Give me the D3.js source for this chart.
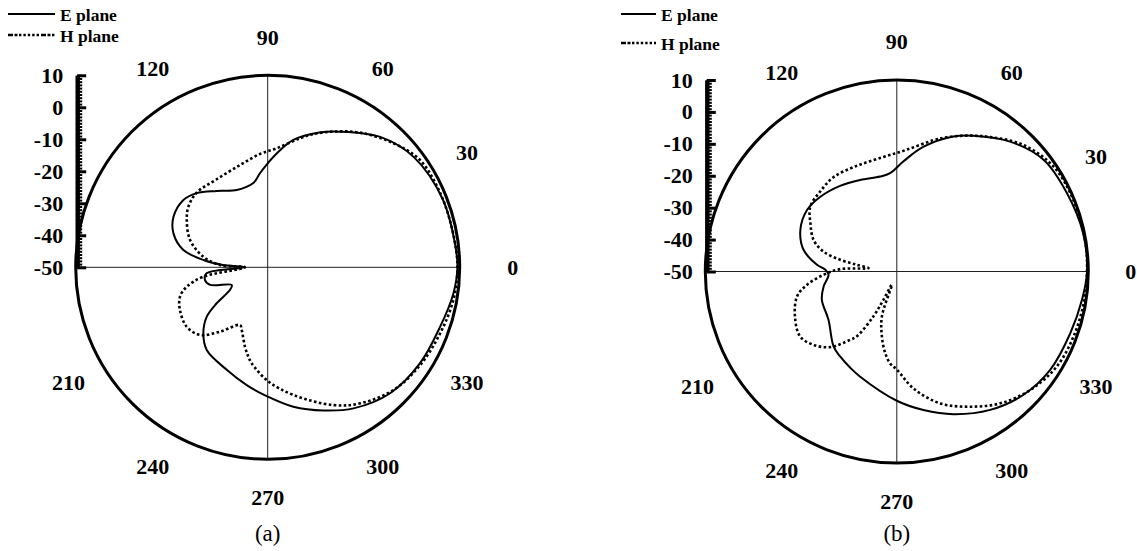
<!DOCTYPE html>
<html><head><meta charset="utf-8">
<script src="https://cdn.jsdelivr.net/npm/d3@7"></script>
<style>
body{margin:0;background:#fff;}
svg{display:block;}
text{font-family:"Times New Roman","Liberation Serif",serif;}
</style></head>
<body>
<svg id="c" width="1137" height="551"></svg>
<script>
// ---- data (angle in degrees, level in dB) ----
const radialTicks = [10, 0, -10, -20, -30, -40, -50];
const angleLabels = [0, 30, 60, 90, 120, 210, 240, 270, 300, 330];
const seriesNames = ["E plane", "H plane"];
const panelCaptions = ["(a)", "(b)"];

const aE_ang = [0,7,21,37,49,62,69,78.6,85.5,90,94.7,99.7,111.8,123.7,133.8,141.4,151.8,160.2,168.4,173.5,177,180,185.6,191.4,197,206.2,211,215.2,219,225.7,233.6,248.2,259.9,270,280.4,291.2,301.3,314.2,327.8,341,352];
const aE_val = [9.3,9.0,8.7,7.2,3.9,-2.0,-4.9,-9.4,-14.3,-17.5,-20.5,-23.3,-24,-21.3,-17.9,-16.3,-16.6,-18.7,-23.1,-29.8,-36,-42.9,-30.8,-30,-31.2,-37.5,-36.2,-30.5,-25.5,-21.2,-17.9,-15.5,-12.6,-9.6,-5.7,-2.0,1.6,4.9,6.25,7.0,8.6];

const aH_ang = [0,10.5,23.2,35.2,44.6,55.6,64.2,71.1,75.9,85.7,93.9,105.1,120.1,133.6,142.6,149.7,160.6,170.7,177.2,180,188.3,193.5,198.5,206,216.3,225,233.5,244.4,247.5,254,257.8,260.5,270,281.4,295.5,304.2,315.7,327.3,339,350];
const aH_val = [9.3,8.9,8.7,8.2,5.2,1.0,-2.9,-6.0,-8.4,-12.7,-14.5,-16.9,-18.2,-17.8,-18.8,-20.7,-24.3,-29.6,-35.1,-42.9,-29.7,-24,-21.1,-19.5,-18.6,-20.1,-25,-30,-28.8,-24.2,-21.4,-19.6,-14.5,-9.3,-2.3,1.4,4.9,6.6,7.7,8.9];

const bE_ang = [0,11.6,24.7,37.3,48.9,60.5,67.2,77.9,86.5,93.9,100,111.8,123.5,135.6,145.6,156.7,166.9,175.2,178.6,182.8,191.5,200.7,215.2,229.8,236.3,244.2,250.8,270,280.9,291.7,304,315.8,327.3,340.4,351.3];
const bE_val = [9.6,9.6,8.7,7.8,4.0,-1.1,-4.1,-10.0,-15.4,-19.1,-19.8,-19.1,-17.8,-16.5,-15.9,-17.1,-20,-24.9,-27.6,-28.6,-26.6,-24.9,-23.8,-19.3,-18,-16.5,-15.1,-9.5,-5.8,-1.9,2.3,5.4,7.1,7.7,8.7];

const bH_ang = [0,9.5,22,33.8,45,55.2,62.7,69.6,74.4,85.3,96.7,110.7,123.9,133.8,143.1,150.8,159.2,164.8,168.3,170.5,173.2,177.6,182.6,188.4,194,203.9,213.9,221.3,228.6,235.7,238.4,242.5,244.7,249.4,251.6,257,261.8,266,270,278.1,288.2,298.5,308.1,318.4,329.3,339.8,350.4];
const bH_val = [9.6,9.8,9.7,9.1,6.1,1.3,-2.1,-5.1,-7.3,-11.7,-13.9,-14.6,-14.4,-15.3,-16.1,-19,-22.1,-26.2,-31.9,-37.3,-41.1,-32.3,-27,-21.6,-17.8,-15.1,-13.5,-15.2,-18.4,-24.1,-26.2,-34.2,-40.2,-45.6,-35.2,-29.2,-24.3,-21,-19.3,-13,-6.5,-1.8,2.5,5.9,8.3,9.0,9.4];

// ---- layout ----
const svg = d3.select("#c");
const panels = [
  {cx:267.7, cy:267.3, R:192, E:[aE_ang,aE_val], H:[aH_ang,aH_val], cap:panelCaptions[0],
   legX1:8, legX2:55, legTx:60, legEy:14, legEb:21, legHy:35, legHb:42, zeroR:245},
  {cx:896.8, cy:271.5, R:191.5, E:[bE_ang,bE_val], H:[bH_ang,bH_val], cap:panelCaptions[1],
   legX1:621, legX2:656, legTx:661, legEy:14, legEb:21, legHy:43, legHb:50, zeroR:234}
];

const zip = (a, v) => a.map((d, i) => [d, v[i]]);

panels.forEach(p => {
  const g = svg.append("g");
  const r = d3.scaleLinear().domain([-50, 10]).range([0, p.R]);
  const toRad = deg => (90 - deg) * Math.PI / 180;

  // axes cross lines
  g.append("line").attr("x1", p.cx - p.R).attr("x2", p.cx + p.R).attr("y1", p.cy).attr("y2", p.cy)
    .attr("stroke", "#222").attr("stroke-width", 1);
  g.append("line").attr("x1", p.cx).attr("x2", p.cx).attr("y1", p.cy - p.R).attr("y2", p.cy + p.R)
    .attr("stroke", "#222").attr("stroke-width", 1);

  // outer circle
  g.append("circle").attr("cx", p.cx).attr("cy", p.cy).attr("r", r(10))
    .attr("fill", "none").attr("stroke", "#000").attr("stroke-width", 3);

  // curves
  const line = d3.lineRadial()
    .angle(d => toRad(d[0]))
    .radius(d => r(d[1]))
    .curve(d3.curveCatmullRomClosed.alpha(0.5));
  const cg = g.append("g").attr("transform", `translate(${p.cx},${p.cy})`);
  cg.append("path").attr("d", line(zip(p.H[0], p.H[1])))
    .attr("fill", "none").attr("stroke", "#000").attr("stroke-width", 2.6)
    .attr("stroke-dasharray", "2.6,2.4");
  cg.append("path").attr("d", line(zip(p.E[0], p.E[1])))
    .attr("fill", "none").attr("stroke", "#000").attr("stroke-width", 2);

  // value axis bar on the left
  const y = d3.scaleLinear().domain([-50, 10]).range([p.cy, p.cy - p.R]);
  const bx = p.cx - p.R + 1.5;
  const minor = d3.range(-50, 10.5, 1);
  g.append("g").attr("transform", `translate(${bx},0)`)
    .call(d3.axisLeft(y).tickValues(minor).tickSizeInner(-5).tickSizeOuter(0).tickFormat(""))
    .call(s => s.select(".domain").attr("stroke-width", 4))
    .call(s => s.selectAll(".tick line").attr("stroke-width", 2));
  const ax = g.append("g").attr("transform", `translate(${bx},0)`)
    .call(d3.axisLeft(y).tickValues(radialTicks).tickSizeInner(-9).tickSizeOuter(0).tickPadding(14)
      .tickFormat(d => String(d)));
  ax.select(".domain").attr("stroke-width", 4);
  ax.selectAll(".tick line").attr("stroke-width", 3);
  ax.selectAll(".tick text").attr("font-family", '"Times New Roman","Liberation Serif",serif')
    .attr("font-size", 22).attr("font-weight", "bold").attr("fill", "#000");

  // angle labels
  g.selectAll("text.ang").data(angleLabels).join("text").attr("class", "ang")
    .attr("x", d => p.cx + (d === 0 ? p.zeroR : 230) * Math.cos(d * Math.PI / 180))
    .attr("y", d => p.cy - (d === 0 ? p.zeroR : 230) * Math.sin(d * Math.PI / 180))
    .attr("dy", "0.35em").attr("text-anchor", "middle")
    .attr("font-size", 22).attr("font-weight", "bold").text(d => d);

  // legend
  g.append("line").attr("x1", p.legX1).attr("x2", p.legX2).attr("y1", p.legEy).attr("y2", p.legEy)
    .attr("stroke", "#000").attr("stroke-width", 2);
  g.append("text").attr("x", p.legTx).attr("y", p.legEb).attr("font-size", 17.5).attr("font-weight", "bold")
    .text(seriesNames[0]);
  g.append("line").attr("x1", p.legX1).attr("x2", p.legX2).attr("y1", p.legHy).attr("y2", p.legHy)
    .attr("stroke", "#000").attr("stroke-width", 2.6).attr("stroke-dasharray", "5,1.5,3,1.5,2.4,2,2.4,2,2.4,2,2.4,2,2.4,2");
  g.append("text").attr("x", p.legTx).attr("y", p.legHb).attr("font-size", 17.5).attr("font-weight", "bold")
    .text(seriesNames[1]);

  // caption
  g.append("text").attr("x", p.cx).attr("y", 541).attr("text-anchor", "middle")
    .attr("font-size", 23).text(p.cap);
});
</script>
</body></html>
